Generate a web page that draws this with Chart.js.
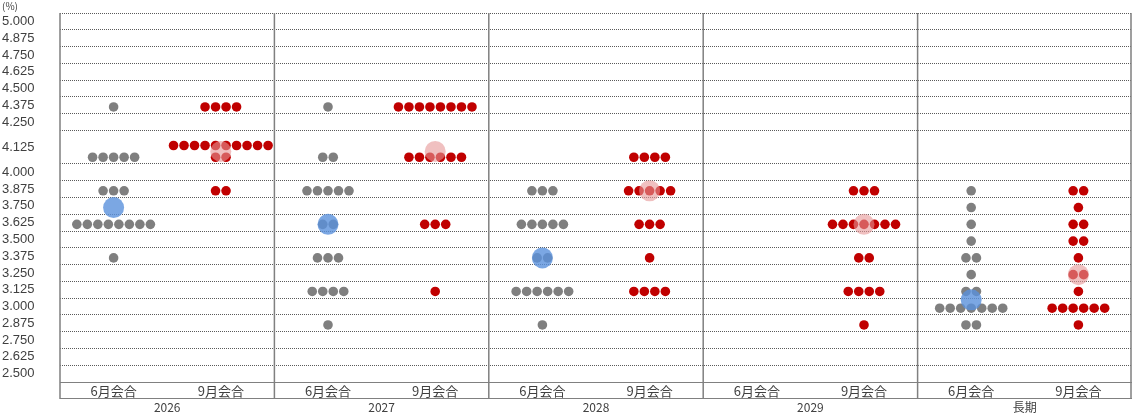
<!DOCTYPE html>
<html>
<head>
<meta charset="utf-8">
<script src="https://cdn.jsdelivr.net/npm/chart.js@4.4.1/dist/chart.umd.min.js"></script>
<style>
html, body { margin: 0; padding: 0; background: #fff; }
canvas { display: block; }
</style>
</head>
<body>
<canvas id="dotPlot" width="1132" height="415"></canvas>
<script>
var years = ['2026', '2027', '2028', '2029', '長期'];
var meetings = ['6月会合', '9月会合'];
var rates = [4.375, 4.125, 4.000, 3.875, 3.750, 3.625, 3.500, 3.375, 3.250, 3.125, 3.000, 2.875];
var yTickLabels = ['5.000', '4.875', '4.750', '4.625', '4.500', '4.375', '4.250', '4.125', '4.000', '3.875',
    '3.750', '3.625', '3.500', '3.375', '3.250', '3.125', '3.000', '2.875', '2.750', '2.625', '2.500'];

// 人数 (rates の順に並べる)
var junCounts = [
    [1, 5, 0, 3, 0, 8, 0, 1, 0, 0, 0, 0],   // 2026
    [1, 2, 0, 5, 0, 2, 0, 3, 0, 4, 0, 1],   // 2027
    [0, 0, 0, 3, 0, 5, 0, 2, 0, 6, 0, 1],   // 2028
    [0, 0, 0, 0, 0, 0, 0, 0, 0, 0, 0, 0],   // 2029
    [0, 0, 0, 1, 1, 1, 1, 2, 1, 2, 7, 2]    // 長期
];
var sepCounts = [
    [4, 12, 0, 2, 0, 0, 0, 0, 0, 0, 0, 0],
    [8, 6, 0, 0, 0, 3, 0, 0, 0, 1, 0, 0],
    [0, 4, 0, 5, 0, 3, 0, 1, 0, 4, 0, 0],
    [0, 0, 0, 3, 0, 7, 0, 2, 0, 4, 0, 1],
    [0, 0, 0, 2, 1, 2, 2, 1, 2, 1, 6, 1]
];
var junMedians = [3.750, 3.625, 3.375, null, 3.0625];
var sepMedians = [4.125, 4.125, 3.875, 3.625, 3.250];

var DOT_STEP = 0.098; // 点の横間隔 (x軸の単位)

// 金利 -> 縦位置。4.125 の段だけ2段分の高さがある
function rowOf(rate) {
    var k = (rate - 2.5) / 0.125;
    if (rate > 4.125) k += 1;
    return k;
}
function bandCenter(rate) {
    return rate === 4.125 ? rowOf(rate) + 1 : rowOf(rate) + 0.5;
}

function buildDots(counts, side) {
    var pts = [];
    for (var y = 0; y < years.length; y++) {
        var cx = y * 2 + side;
        for (var r = 0; r < rates.length; r++) {
            var n = counts[y][r];
            if (!n) continue;
            var lines;
            if (rates[r] === 4.125) {
                lines = n > 10 ? [[10, 14.1], [n - 10, 13.4]] : [[n, 13.4]];
            } else {
                lines = [[n, bandCenter(rates[r]) - 0.1]];
            }
            lines.forEach(function (ln) {
                for (var i = 0; i < ln[0]; i++) {
                    pts.push({ x: cx + (i - (ln[0] - 1) / 2) * DOT_STEP, y: ln[1] });
                }
            });
        }
    }
    return pts;
}

function buildMedians(meds, side) {
    var pts = [];
    meds.forEach(function (m, y) {
        if (m === null) return;
        pts.push({ x: y * 2 + side, y: m === 4.125 ? 13.75 : bandCenter(m) - 0.1 });
    });
    return pts;
}

var gridRows = [];
for (var g = 1; g <= 22; g++) {
    if (g !== 14) gridRows.push(g);
}

var framePlugin = {
    id: 'frame',
    beforeDatasetsDraw: function (chart) {
        var ctx = chart.ctx;
        var area = chart.chartArea;
        var xs = chart.scales.x;
        ctx.save();
        ctx.strokeStyle = '#808080';
        ctx.lineWidth = 1;
        ctx.beginPath();
        ctx.moveTo(area.left, Math.round(area.bottom) + 0.5);
        ctx.lineTo(area.right, Math.round(area.bottom) + 0.5);
        ctx.moveTo(area.left, Math.round(xs.bottom) - 0.5);
        ctx.lineTo(area.right, Math.round(xs.bottom) - 0.5);
        ctx.stroke();
        ctx.lineWidth = 1.5;
        ctx.beginPath();
        for (var k = 0; k <= years.length; k++) {
            var px = xs.getPixelForValue(k * 2 - 0.5);
            px = Math.min(px, area.right - 1);
            ctx.moveTo(px, area.top);
            ctx.lineTo(px, xs.bottom);
        }
        ctx.stroke();
        ctx.restore();
    },
    afterDraw: function (chart) {
        var ctx = chart.ctx;
        ctx.save();
        ctx.fillStyle = '#404040';
        ctx.font = '10px "Noto Sans CJK JP"';
        ctx.textBaseline = 'middle';
        ctx.fillText('(%)', 2, 6);
        ctx.restore();
    }
};

var ctx = document.getElementById('dotPlot').getContext('2d');
var chart = new Chart(ctx, {
    type: 'scatter',
    data: {
        datasets: [
            {
                label: '6月中央値',
                data: buildMedians(junMedians, 0),
                backgroundColor: 'rgba(90,145,220,0.8)',
                pointRadius: 10.5,
                pointBorderWidth: 0
            },
            {
                label: '9月中央値',
                data: buildMedians(sepMedians, 1),
                backgroundColor: 'rgba(230,150,150,0.6)',
                pointRadius: 10.5,
                pointBorderWidth: 0
            },
            {
                label: '6月会合',
                data: buildDots(junCounts, 0),
                backgroundColor: '#7f7f7f',
                pointRadius: 4.8,
                pointBorderWidth: 0
            },
            {
                label: '9月会合',
                data: buildDots(sepCounts, 1),
                backgroundColor: '#c00000',
                pointRadius: 4.8,
                pointBorderWidth: 0
            }
        ]
    },
    options: {
        responsive: false,
        animation: false,
        layout: { autoPadding: false, padding: { top: 13, left: 2, right: 0, bottom: 0 } },
        plugins: {
            legend: { display: false },
            tooltip: { enabled: false }
        },
        scales: {
            x: {
                type: 'linear',
                position: 'bottom',
                min: -0.5,
                max: 9.5,
                grid: { display: false, drawTicks: false },
                border: { display: false },
                afterBuildTicks: function (scale) {
                    scale.ticks = [0, 1, 2, 3, 4, 5, 6, 7, 8, 9].map(function (v) { return { value: v }; });
                },
                afterFit: function (scale) { scale.height = 17; },
                ticks: {
                    padding: 1,
                    maxRotation: 0,
                    autoSkip: false,
                    color: '#404040',
                    font: { family: '"Noto Sans CJK JP"', size: 13 },
                    callback: function (v) { return meetings[Math.round(v) % 2]; }
                }
            },
            x2: {
                type: 'linear',
                position: 'bottom',
                min: -0.5,
                max: 9.5,
                grid: { display: false, drawTicks: false },
                border: { display: false },
                afterBuildTicks: function (scale) {
                    scale.ticks = years.map(function (yr, i) { return { value: i * 2 + 0.5 }; });
                },
                afterFit: function (scale) { scale.height = 16; },
                ticks: {
                    padding: 1,
                    maxRotation: 0,
                    autoSkip: false,
                    color: '#404040',
                    font: { family: '"Noto Sans CJK JP"', size: 12 },
                    callback: function (v) { return years[Math.round((v - 0.5) / 2)]; }
                }
            },
            y: {
                type: 'linear',
                position: 'left',
                min: 0,
                max: 22,
                grid: { display: false, drawTicks: false },
                border: { display: false },
                afterBuildTicks: function (scale) {
                    scale.ticks = yTickLabels.map(function (t) { return { value: bandCenter(parseFloat(t)) }; });
                },
                afterFit: function (scale) { scale.width = 58; },
                ticks: {
                    crossAlign: 'far',
                    padding: 0,
                    autoSkip: false,
                    color: '#404040',
                    font: { family: '"Liberation Sans", Arial', size: 13 },
                    callback: function (v, i) { return yTickLabels[i]; }
                }
            },
            yg: {
                type: 'linear',
                position: 'left',
                min: 0,
                max: 22,
                // v4 では点線の指定は border.dash
                border: { display: false, dash: [1, 1] },
                afterBuildTicks: function (scale) {
                    scale.ticks = gridRows.map(function (v) { return { value: v }; });
                },
                afterFit: function (scale) { scale.width = 0; },
                grid: {
                    drawTicks: false,
                    color: '#5a5a5a',
                    lineWidth: 1
                },
                ticks: { display: false }
            }
        }
    },
    plugins: [framePlugin]
});
</script>
</body>
</html>
